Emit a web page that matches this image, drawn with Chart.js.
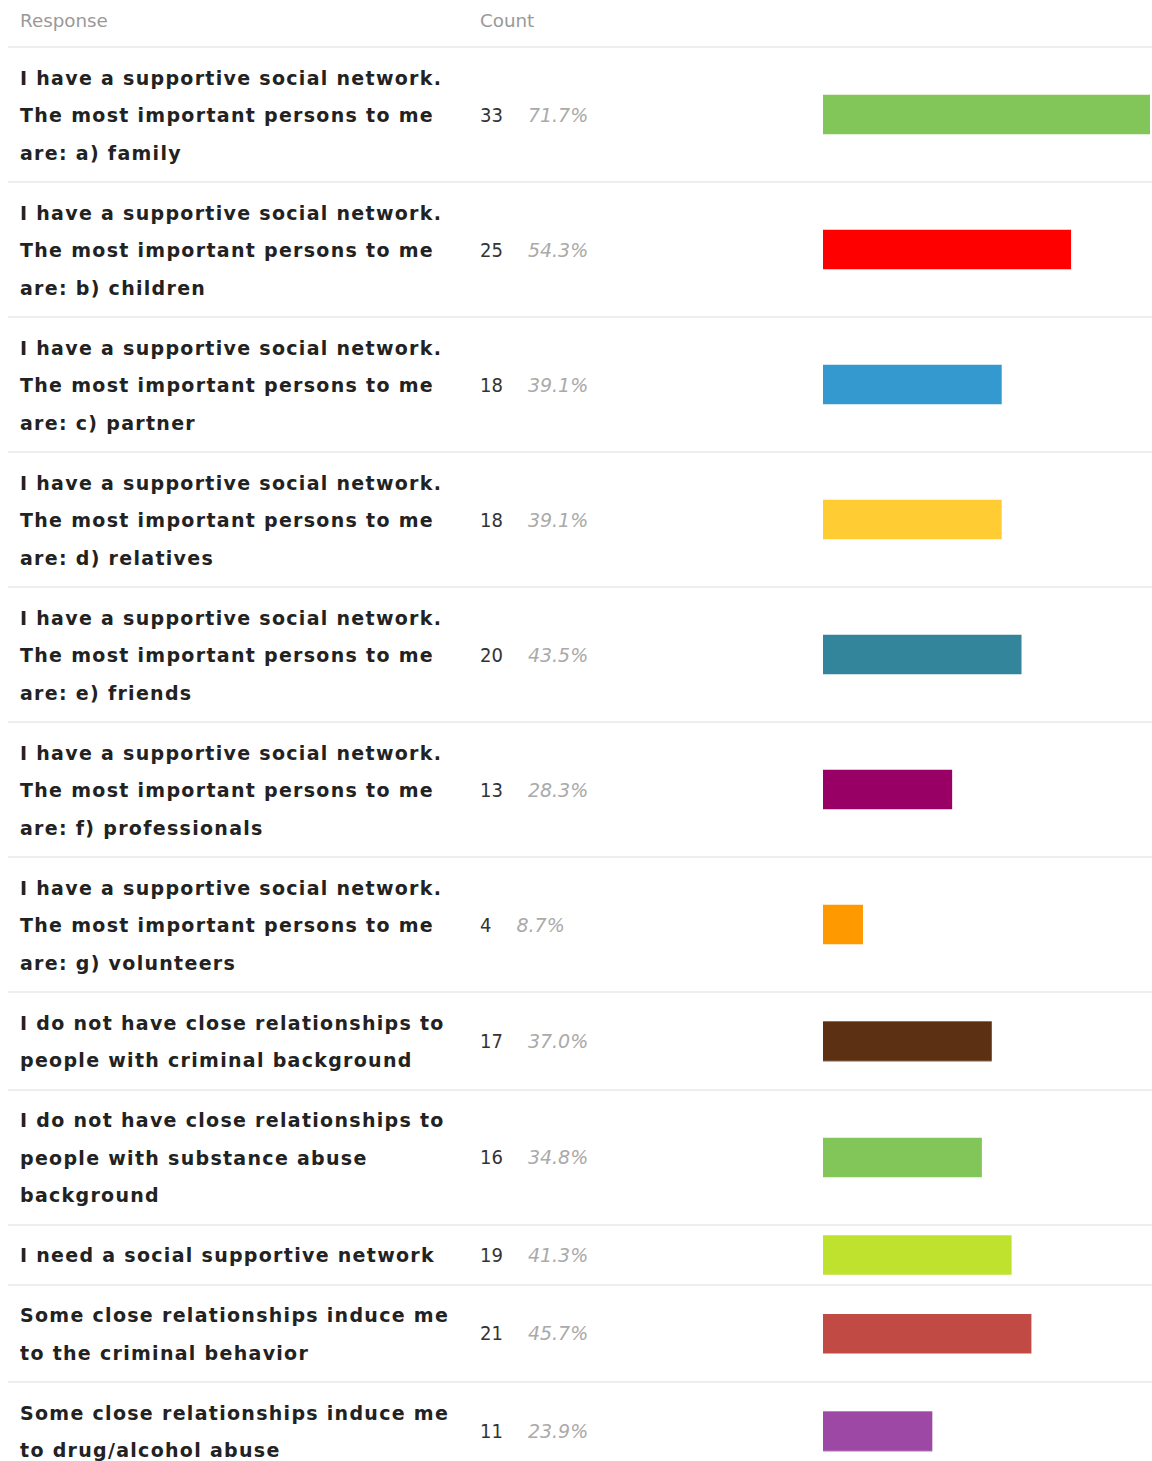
<!DOCTYPE html>
<html>
<head>
<meta charset="utf-8">
<script src="https://cdn.jsdelivr.net/npm/chart.js@4/dist/chart.umd.min.js"></script>
<style>
  body { margin: 0; background: #fff; font-family: "DejaVu Sans", sans-serif; }
  #table { position: absolute; left: 8px; top: 0; width: 1144px; }
  .head { position: relative; height: 48px; border-bottom: 2px solid #eeeeee; box-sizing: border-box; color: #999; font-size: 18.3px; }
  .head span { position: absolute; top: 10px; }
  .row { position: relative; border-bottom: 2px solid #eeeeee; box-sizing: border-box; }
  .resp { position: absolute; left: 12px; top: 11.5px; font-weight: bold; font-size: 19px; color: #222; letter-spacing: 1.3px; line-height: 37.5px; }
  .resp div { white-space: nowrap; }
  .num { position: absolute; left: 472px; top: 0; bottom: 0; display: flex; align-items: center; }
  .cnt { font-family: "DejaVu Sans Condensed", "DejaVu Sans", sans-serif; font-size: 20px; color: #333; }
  .pct { margin-left: 25px; font-style: italic; font-size: 19px; color: #aaa; }
  .bar { position: absolute; left: 815px; top: 0; width: 327px; }
</style>
</head>
<body>
<div id="table">
  <div class="head"><span style="left:12px">Response</span><span style="left:472px">Count</span></div>
</div>
<script>
const responses = [
  ['I have a supportive social network.', 'The most important persons to me', 'are: a) family'],
  ['I have a supportive social network.', 'The most important persons to me', 'are: b) children'],
  ['I have a supportive social network.', 'The most important persons to me', 'are: c) partner'],
  ['I have a supportive social network.', 'The most important persons to me', 'are: d) relatives'],
  ['I have a supportive social network.', 'The most important persons to me', 'are: e) friends'],
  ['I have a supportive social network.', 'The most important persons to me', 'are: f) professionals'],
  ['I have a supportive social network.', 'The most important persons to me', 'are: g) volunteers'],
  ['I do not have close relationships to', 'people with criminal background'],
  ['I do not have close relationships to', 'people with substance abuse', 'background'],
  ['I need a social supportive network'],
  ['Some close relationships induce me', 'to the criminal behavior'],
  ['Some close relationships induce me', 'to drug/alcohol abuse']
]
const counts = [33, 25, 18, 18, 20, 13, 4, 17, 16, 19, 21, 11]
const percents = ['71.7%', '54.3%', '39.1%', '39.1%', '43.5%', '28.3%', '8.7%', '37.0%', '34.8%', '41.3%', '45.7%', '23.9%']
const colors = ['#82c65a', '#ff0000', '#3399cf', '#ffcc33', '#33859c', '#990066', '#ff9900', '#5c3013', '#82c65a', '#bfe22f', '#c24a44', '#9c48a4']

const maxCount = Math.max(...counts)
const table = document.getElementById('table')

responses.forEach((lines, i) => {
  const h = lines.length * 37.5 + 22.5
  const row = document.createElement('div')
  row.className = 'row'
  row.style.height = h + 'px'

  const resp = document.createElement('div')
  resp.className = 'resp'
  lines.forEach(t => {
    const d = document.createElement('div')
    d.textContent = t
    resp.appendChild(d)
  })
  row.appendChild(resp)

  const num = document.createElement('div')
  num.className = 'num'
  num.innerHTML = '<span class="cnt">' + counts[i] + '</span><span class="pct">' + percents[i] + '</span>'
  row.appendChild(num)

  const box = document.createElement('div')
  box.className = 'bar'
  box.style.height = (h - 2) + 'px'
  const cv = document.createElement('canvas')
  box.appendChild(cv)
  row.appendChild(box)
  table.appendChild(row)

  new Chart(cv, {
    type: 'bar',
    data: {
      labels: [lines.join(' ')],
      datasets: [{
        data: [counts[i]],
        backgroundColor: colors[i],
        borderWidth: 0,
        barThickness: 39
      }]
    },
    options: {
      indexAxis: 'y',
      responsive: true,
      maintainAspectRatio: false,
      animation: false,
      layout: { padding: 0 },
      scales: {
        x: { display: false, min: 0, max: maxCount },
        y: { display: false }
      },
      plugins: { legend: { display: false }, tooltip: { enabled: false } }
    }
  })
})
</script>
</body>
</html>
